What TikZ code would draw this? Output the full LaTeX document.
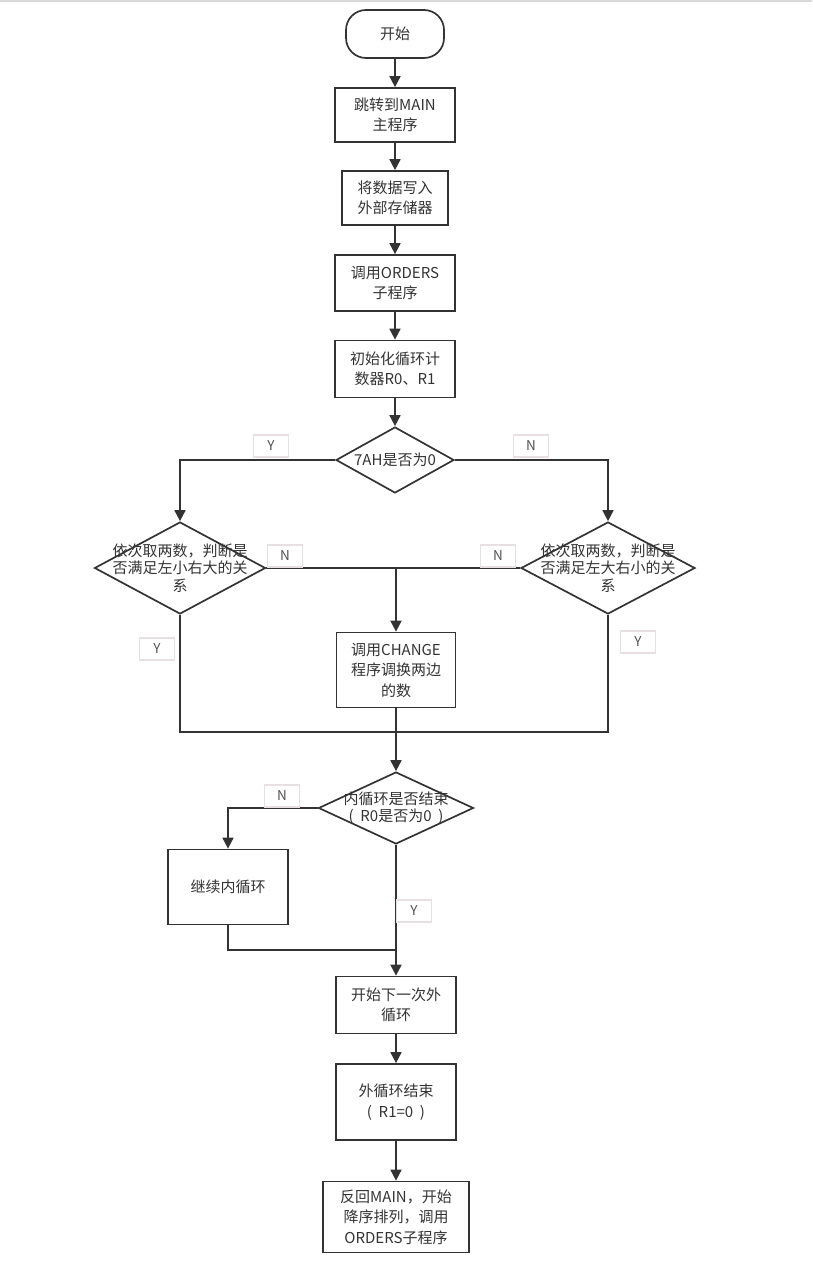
\documentclass[tikz,border=0pt]{standalone}
\usepackage{fontspec}
\setmainfont{Noto Sans CJK SC}
\usepackage{tikz}
\usetikzlibrary{shapes.geometric, arrows.meta}

\definecolor{ink}{HTML}{333333}
\definecolor{tagline}{HTML}{E8E0E0}
\tikzset{
  base/.style={draw=ink, line width=1.7pt, text=ink, align=center, inner sep=0pt,
    font=\fontsize{15}{20.5}\selectfont},
  startstop/.style={base, rounded corners=20pt},
  process/.style={base, rectangle},
  decision/.style={base, diamond},
  dtext/.style={text=ink, align=center, font=\fontsize{15}{17.5}\selectfont},
  yn/.style={draw=tagline, line width=1.2pt, text=ink!85, minimum width=35pt,
    minimum height=22pt, inner sep=0pt, font=\fontsize{13.5}{15}\selectfont},
  flow/.style={draw=ink, line width=1.7pt},
  arr/.style={flow, -{Triangle[length=11pt,width=11pt]}}
}

\begin{document}
\begin{tikzpicture}[x=1pt, y=-1pt]
    \useasboundingbox (0,0) rectangle (812,1261);
    \draw [gray!30, line width=2pt] (0,1)--(812,1);

    \node [startstop, minimum width=98pt, minimum height=48pt] (start) at (395,34) {开始};
    \node [process, minimum width=120pt, minimum height=54pt] (jump) at (395,115) {跳转到MAIN\\主程序};
    \node [process, minimum width=106pt, minimum height=54pt] (write) at (395,198) {将数据写入\\外部存储器};
    \node [process, minimum width=120pt, minimum height=56pt] (orders) at (395,283) {调用ORDERS\\子程序};
    \node [process, minimum width=120pt, minimum height=57pt] (init) at (395,369) {初始化循环计\\数器R0、R1};
    \node [decision, minimum width=118pt, minimum height=66pt,
      label={[dtext]center:7AH是否为0}] (flag) at (395,460) {};
    \node [decision, minimum width=171pt, minimum height=92pt,
      label={[dtext]center:{依次取两数，判断是\\否满足左小右大的关\\系}}] (asc) at (180,568) {};
    \node [decision, minimum width=174pt, minimum height=92pt,
      label={[dtext]center:{依次取两数，判断是\\否满足左大右小的关\\系}}] (desc) at (608,568) {};
    \node [process, minimum width=119pt, minimum height=75pt] (change) at (396,670) {调用CHANGE\\程序调换两边\\的数};
    \node [decision, minimum width=155pt, minimum height=72pt,
      label={[dtext]center:{内循环是否结束\\(\hspace{0.45em}R0是否为0\hspace{0.45em})}}] (inner) at (396,808) {};
    \node [process, minimum width=120pt, minimum height=75pt] (goon) at (228,887) {继续内循环};
    \node [process, minimum width=120pt, minimum height=57pt] (next) at (396,1005) {开始下一次外\\循环};
    \node [process, minimum width=120pt, minimum height=76pt] (outer) at (396,1102) {外循环结束\\(\hspace{0.45em}R1=0\hspace{0.45em})};
    \node [process, minimum width=146pt, minimum height=71pt] (back) at (396,1217) {反回MAIN，开始\\降序排列，调用\\ORDERS子程序};

    \coordinate (merge) at (396,732);
    \coordinate (rejoin) at (396,950);

    % main line
    \draw [arr] (start)--(jump);
    \draw [arr] (jump)--(write);
    \draw [arr] (write)--(orders);
    \draw [arr] (orders)--(init);
    \draw [arr] (init)--(flag);
    \draw [arr] (flag.west) -| (asc.north);
    \draw [arr] (flag.east) -| (desc.north);
    \draw [flow] (asc.east)--(desc.west);
    \draw [arr] (change.north |- asc.east)--(change.north);
    \draw [flow] (asc.south) |- (merge) -| (desc.south);
    \draw [arr] (change)--(inner);
    \draw [arr] (inner.west) -| (goon.north);
    \draw [flow] (goon.south) |- (rejoin);
    \draw [arr] (inner)--(next);
    \draw [arr] (next)--(outer);
    \draw [arr] (outer)--(back);

    % branch tags
    \node [yn, fill=white] (y0) at (271,446) {Y};
    \node [yn, fill=white] (n0) at (531,446) {N};
    \node [yn, fill=white] (n1) at (285,556) {N};
    \node [yn, fill=white] (n2) at (498,556) {N};
    \node [yn, fill=white] (y1) at (157,649) {Y};
    \node [yn, fill=white] (y2) at (638,642) {Y};
    \node [yn, fill=white] (n3) at (282,796) {N};
    \node [yn, fill=white] (y3) at (414,911) {Y};
  \end{tikzpicture}
\end{document}
